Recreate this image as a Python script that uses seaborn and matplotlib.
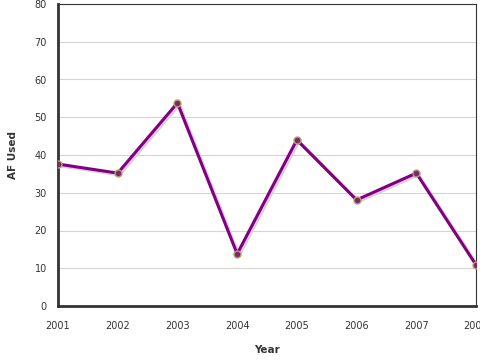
import numpy as np
import pandas as pd
import seaborn as sns
import matplotlib.pyplot as plt

# values
years = [2001, 2002, 2003, 2004, 2005, 2006, 2007, 2008]
af_used = [37.6, 35.2, 53.8, 13.8, 44.0, 28.1, 35.2, 10.9]

df = pd.DataFrame({'Year': years, 'AF Used': af_used})

sns.set_style('white')
plt.rcParams['font.family'] = ['DejaVu Sans']

fig = plt.figure(figsize=(4.8, 3.6), dpi=100)
ax = fig.add_axes([58/480, 54/360, 418/480, 302/360])

# soft shadow under the line
ax.plot(df['Year'] + 0.03, df['AF Used'] - 0.4, color='#dccbdc', lw=2.5, zorder=1)
sns.lineplot(data=df, x='Year', y='AF Used', ax=ax, color='#800080', lw=2.2,
             marker='o', markersize=5, markerfacecolor='#7a2a6a',
             markeredgecolor='#b8a070', markeredgewidth=1, zorder=3)

ax.set_xlim(2001, 2008)
ax.set_ylim(0, 80)
ax.set_xticks(years)
ax.set_yticks(range(0, 81, 10))
ax.yaxis.grid(True, color='#d4d4d4', lw=0.8)
ax.set_axisbelow(True)

for side in ['left', 'bottom']:
    ax.spines[side].set_linewidth(2)
    ax.spines[side].set_color('#333333')
for side in ['top', 'right']:
    ax.spines[side].set_linewidth(0.8)
    ax.spines[side].set_color('#333333')

ax.tick_params(axis='both', direction='out', length=5, width=1, color='#333333',
               labelsize=7, labelcolor='#333333', pad=3)
ax.tick_params(axis='x', pad=6)
ax.set_xlabel('Year', fontsize=7.5, fontweight='bold', color='#333333', labelpad=10)
ax.set_ylabel('AF Used', fontsize=7.5, fontweight='bold', color='#333333', labelpad=12)

fig.savefig('out.png', dpi=100)
